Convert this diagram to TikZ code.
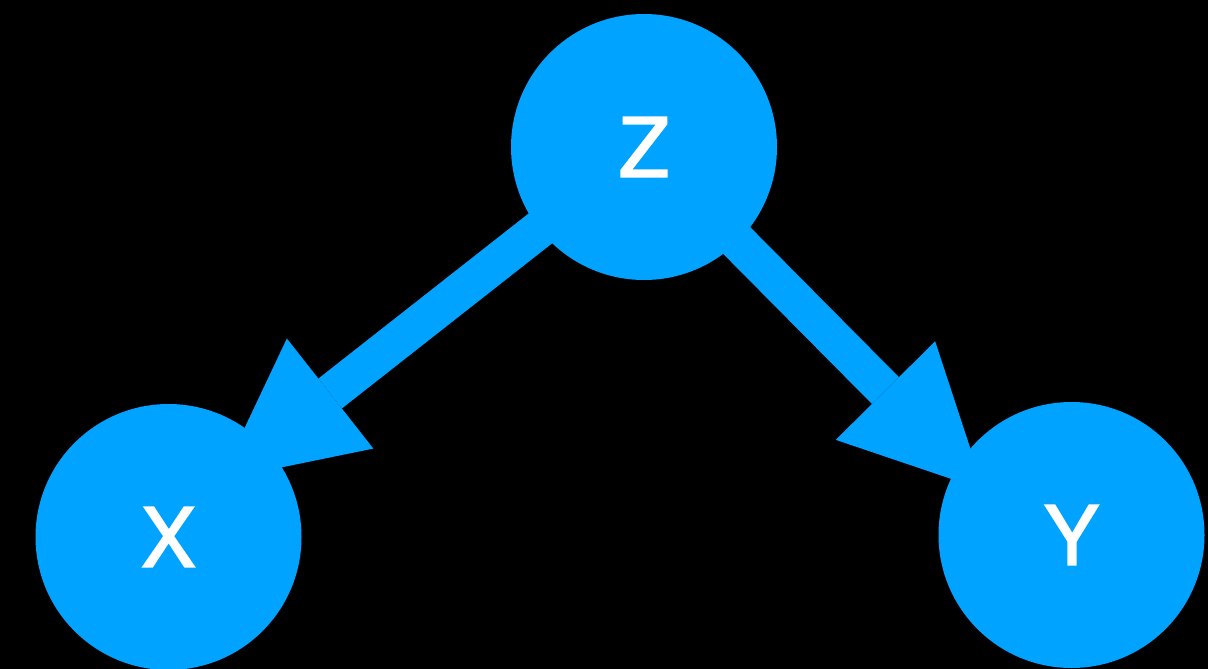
\documentclass[tikz,border=0pt]{standalone}
\usepackage{fontspec}
\setmainfont{TeX Gyre Heros}
\newfontfamily\lblfont[FakeBold=2]{TeX Gyre Heros}
\usetikzlibrary{arrows.meta}
\definecolor{nodeblue}{RGB}{0,163,255}
\tikzset{
  var/.style={circle, fill=nodeblue, draw=none, minimum size=266pt, inner sep=0pt,
    text=white, font=\fontsize{82}{82}\lblfont},
  edge/.style={draw=nodeblue, line width=38pt,
    -{Triangle[length=140pt, width=140pt, line width=0pt, fill=nodeblue]}}
}
\begin{document}
\begin{tikzpicture}[x=1pt, y=-1pt]
  \fill[black] (0,0) rectangle (1208,669);
  \useasboundingbox (0,0) rectangle (1208,669);
  \coordinate (tx) at (220,480);
  \coordinate (ty) at (984,490);
  \coordinate (zc) at (644,147);
  \draw[edge] (zc) -- (tx);
  \draw[edge] (zc) -- (ty);
  \node[var] (Z) at (644,147) {Z};
  \node[var] (X) at (168.5,537) {X};
  \node[var] (Y) at (1071.5,535) {Y};
\end{tikzpicture}
\end{document}
